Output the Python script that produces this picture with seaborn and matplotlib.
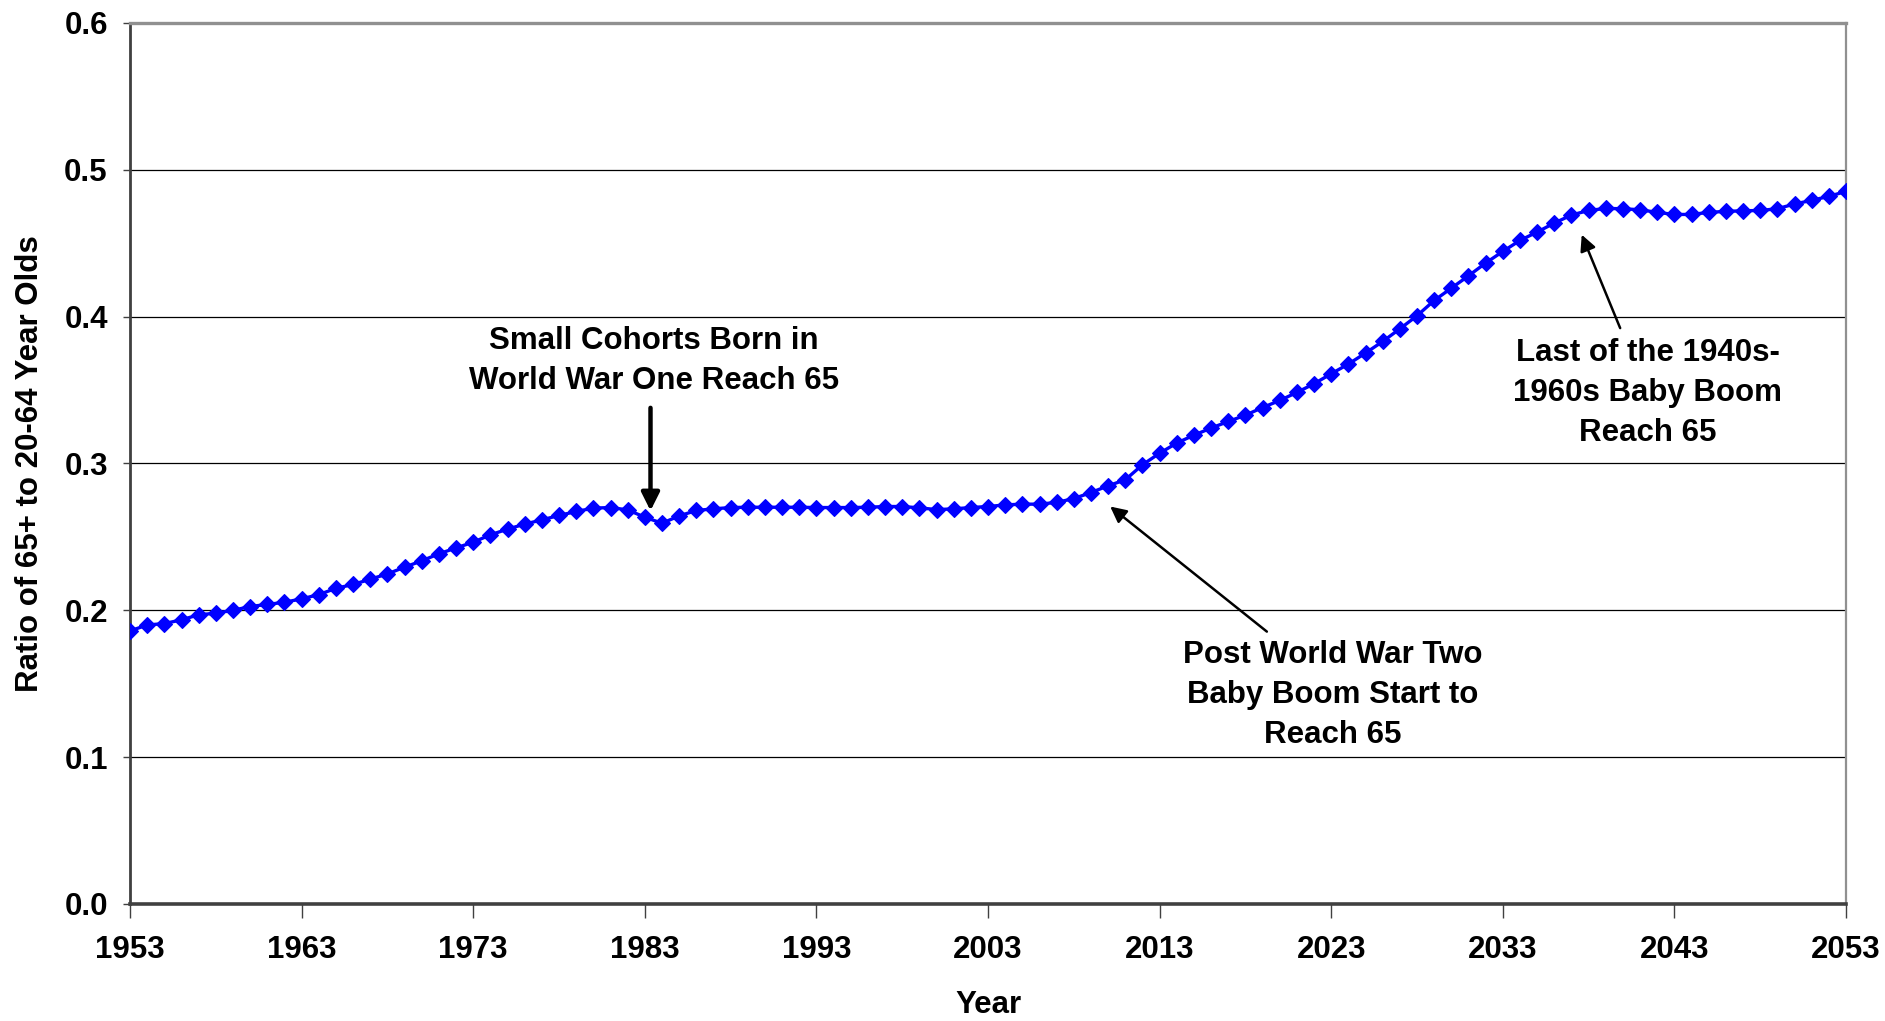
import matplotlib
matplotlib.use("Agg")
import matplotlib.pyplot as plt
import seaborn as sns
import pandas as pd

# Ratio of people aged 65+ to people aged 20-64, 1953-2053
years = list(range(1953, 2054))
ratio = [
    0.186, 0.190, 0.191, 0.1935, 0.197, 0.198, 0.200, 0.2026, 0.204, 0.2055,   # 1953-1962
    0.2078, 0.2107, 0.215, 0.2176, 0.2212, 0.2248, 0.2294, 0.2337, 0.2385, 0.2425,  # 1963-1972
    0.2464, 0.2514, 0.2553, 0.2587, 0.2616, 0.2646, 0.2673, 0.2696, 0.2700, 0.2684,  # 1973-1982
    0.2634, 0.2593, 0.2643, 0.2680, 0.2691, 0.2700, 0.2702, 0.2702, 0.2702, 0.2702,  # 1983-1992
    0.2700, 0.2700, 0.2700, 0.2702, 0.2707, 0.2707, 0.2698, 0.2686, 0.2691, 0.2700,  # 1993-2002
    0.2707, 0.2718, 0.2723, 0.2723, 0.2735, 0.2761, 0.2802, 0.2848, 0.2889, 0.2991,  # 2003-2012
    0.3070, 0.3139, 0.3193, 0.3241, 0.3286, 0.3329, 0.3381, 0.3429, 0.3484, 0.3543,  # 2013-2022
    0.3611, 0.3677, 0.3752, 0.3831, 0.3917, 0.4006, 0.4110, 0.4194, 0.4278, 0.4365,  # 2023-2032
    0.4444, 0.4519, 0.4576, 0.4637, 0.4692, 0.4723, 0.4737, 0.4735, 0.4728, 0.4710,  # 2033-2042
    0.4696, 0.4696, 0.4710, 0.4717, 0.4721, 0.4723, 0.4735, 0.4767, 0.4792, 0.4819,  # 2043-2052
    0.4853,                                                                         # 2053
]
x_ticks = list(range(1953, 2054, 10))
y_ticks = [0.0, 0.1, 0.2, 0.3, 0.4, 0.5, 0.6]

df = pd.DataFrame({"Year": years, "Ratio": ratio})

sns.set_theme(style="white")
plt.rcParams["font.family"] = ["Liberation Sans", "DejaVu Sans"]
plt.rcParams["font.weight"] = "bold"
plt.rcParams["text.color"] = "black"
plt.rcParams["axes.labelcolor"] = "black"
plt.rcParams["xtick.color"] = "black"
plt.rcParams["ytick.color"] = "black"

fig = plt.figure(figsize=(18.85, 10.21), dpi=100)
ax = fig.add_axes([0.069, 0.1146, 0.9103, 0.8629])

sns.lineplot(data=df, x="Year", y="Ratio", ax=ax, color="#0000FF",
             linewidth=2.4, marker="D", markersize=8.6,
             markeredgecolor="#0000FF", markeredgewidth=0.8, zorder=3)

ax.set_xlim(1953, 2053)
ax.set_ylim(0, 0.6)
ax.set_xticks(x_ticks)
ax.set_yticks(y_ticks)
ax.set_xticklabels([str(t) for t in x_ticks], fontsize=22.5, fontweight="bold")
ax.set_yticklabels([f"{t:.1f}" for t in y_ticks], fontsize=22.5, fontweight="bold")

ax.yaxis.grid(True, color="black", linewidth=0.9, zorder=1)
ax.xaxis.grid(False)
ax.set_axisbelow(True)

for side, col, lw in [("left", "#404040", 2.0), ("right", "#909090", 1.6),
                      ("top", "#909090", 2.4), ("bottom", "#404040", 2.6)]:
    ax.spines[side].set_visible(True)
    ax.spines[side].set_color(col)
    ax.spines[side].set_linewidth(lw)

ax.tick_params(axis="x", direction="out", length=10, width=1.0, color="#404040",
               labelcolor="black", pad=12, bottom=True)
ax.tick_params(axis="y", direction="out", length=5, width=1.0, color="#404040",
               labelcolor="black", pad=11, left=True)

ax.set_xlabel("Year", fontsize=22.5, fontweight="bold", labelpad=18, color="black")
ax.set_ylabel("Ratio of 65+ to 20-64 Year Olds", fontsize=22.5, fontweight="bold",
              labelpad=14, color="black")

# Annotation texts
text_kw = dict(fontsize=22.5, fontweight="bold", ha="center", va="center",
               linespacing=1.42, color="black")
ax.text(1983.55, 0.370, "Small Cohorts Born in\nWorld War One Reach 65", **text_kw)
ax.text(2023.1, 0.1424, "Post World War Two\nBaby Boom Start to\nReach 65", **text_kw)
ax.text(2041.44, 0.3479, "Last of the 1940s-\n1960s Baby Boom\nReach 65", **text_kw)

# Annotation arrows
ax.annotate("", xy=(1983.33, 0.2678), xytext=(1983.33, 0.3379),
            arrowprops=dict(arrowstyle="-|>,head_length=0.9,head_width=0.45",
                            color="black", lw=3.2, shrinkA=0, shrinkB=0))
ax.annotate("", xy=(2010.12, 0.2707), xytext=(2019.25, 0.1855),
            arrowprops=dict(arrowstyle="-|>,head_length=0.8,head_width=0.4",
                            color="black", lw=1.8, shrinkA=0, shrinkB=0))
ax.annotate("", xy=(2037.6, 0.4558), xytext=(2039.84, 0.3922),
            arrowprops=dict(arrowstyle="-|>,head_length=0.8,head_width=0.4",
                            color="black", lw=1.8, shrinkA=0, shrinkB=0))

fig.savefig("out.png", dpi=100, facecolor="white")
